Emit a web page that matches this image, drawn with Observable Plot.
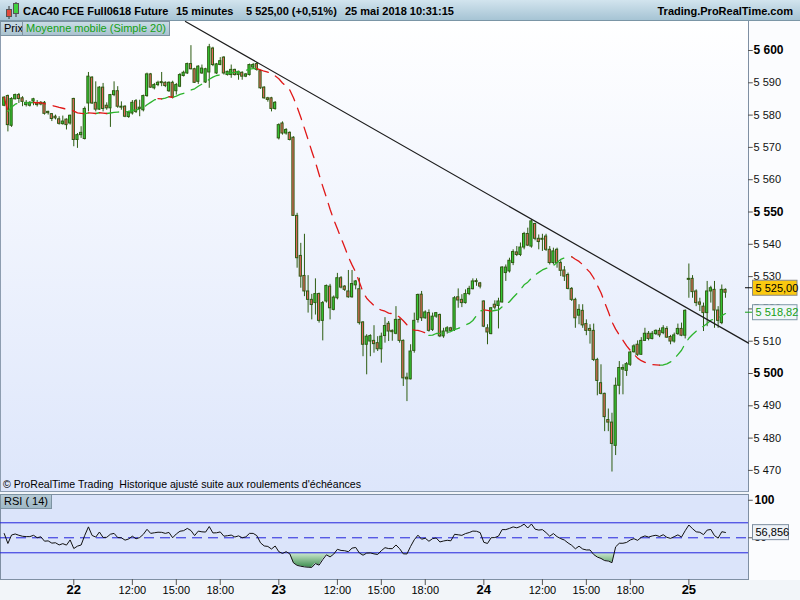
<!DOCTYPE html>
<html lang="fr">
<head>
<meta charset="utf-8">
<script src="https://cdn.jsdelivr.net/npm/d3@7"></script>
<script src="https://cdn.jsdelivr.net/npm/@observablehq/plot@0.6"></script>
<style>
html,body{margin:0;padding:0;}
body{width:800px;height:600px;overflow:hidden;background:#f2f5f9;font-family:"Liberation Sans",Arial,sans-serif;}
#wrap{position:relative;width:800px;height:600px;}
.abs{position:absolute;}
#header{left:0;top:0;width:800px;height:21px;background:linear-gradient(#d2e4ee,#a6c4d4);border-bottom:1px solid #7b96a6;box-sizing:border-box;}
.ht{position:absolute;top:5px;font-size:11px;font-weight:bold;color:#000;line-height:12px;white-space:nowrap;}
#mainbg{left:0;top:21px;width:749px;height:471px;background:linear-gradient(#ffffff,#dde6fb);border-left:1px solid #8d9db0;border-right:1px solid #7f8fa3;border-bottom:1px solid #8d9db0;box-sizing:border-box;}
#axisbg{left:749px;top:21px;width:51px;height:559px;background:#fbfcfe;}
#rsibg{left:0;top:494px;width:749px;height:86px;background:#dbe4fa;border:1px solid #7f8fa3;box-sizing:border-box;}
.box{position:absolute;font-size:11px;line-height:13px;height:15px;box-sizing:border-box;border:1px solid #7d93a2;background:linear-gradient(#cadce6,#a9c2cf);padding:0 3px;white-space:nowrap;}
#copy{left:3px;top:478px;font-size:10.6px;line-height:13px;color:#000;white-space:nowrap;}
svg{position:absolute;left:0;}
</style>
</head>
<body>
<div id="wrap">
  <div id="header" class="abs">
    <svg width="18" height="20" style="left:2px;top:0">
      <line x1="7" y1="6" x2="7" y2="19" stroke="#333"/><rect x="4.5" y="9.5" width="5" height="7" fill="#e04a3c" stroke="#555"/>
      <line x1="14" y1="2" x2="14" y2="17" stroke="#333"/><rect x="11.5" y="3.5" width="5" height="10" fill="#3fd23f" stroke="#555"/>
    </svg>
    <span class="ht" style="left:23px">CAC40 FCE Full0618 Future</span>
    <span class="ht" style="left:176px">15 minutes</span>
    <span class="ht" style="left:246px">5 525,00 (+0,51%)</span>
    <span class="ht" style="left:345px">25 mai 2018 10:31:15</span>
    <span class="ht" style="right:7px">Trading.ProRealTime.com</span>
  </div>
  <div id="mainbg" class="abs"></div>
  <div id="axisbg" class="abs"></div>
  <div id="rsibg" class="abs"></div>
  <div id="charts"></div>
  <div class="box" style="left:0;top:21px;">Prix</div>
  <div class="box" style="left:22px;top:21px;color:#13a013;">Moyenne mobile (Simple 20)</div>
  <div id="copy" class="abs">© ProRealTime Trading&nbsp; Historique ajusté suite aux roulements d'échéances</div>
  <div class="box" style="left:0;top:494px;background:linear-gradient(#b6cad5,#9fb8c6);">RSI ( 14)</div>
</div>
<script>
// ---- Data: 15-minute candles, index k (0 = 22 mai 08:00), from 21 mai 17:15 to 25 mai 10:30
const kStart = -19;
const opens = [
 5582.9,5585.9,5576.7,5584.9,5586.2,5585.2,5583.1,5582.9,5584.2,5583.6,5583.3,5583.8,5581.0,5580.3,5579.5,5578.7,5577.2,5578.6,5577.4,
 5585.0,5572.3,5573.8,5572.6,5583.6,5591.6,5583.8,5581.7,5588.5,5582.9,
 5582.1,5586.2,5587.4,5582.6,5582.6,5579.4,5580.5,5584.3,5581.9,5581.5,
 5585.9,5592.6,5588.3,5589.3,5590.1,5590.0,5587.4,5590.0,5587.4,5588.8,
 5592.1,5592.9,5595.8,5594.2,5590.3,5592.9,5590.1,5593.2,5600.6,5592.9,
 5595.5,5597.8,5592.4,5592.4,5594.0,5592.4,5593.1,5591.9,5592.4,5594.7,
 5595.8,5593.6,5588.5,5585.2,5585.2,5581.9,
 5572.8,5577.4,5574.3,5574.5,5573.0,5548.8,5536.4,5530.2,5525.4,5522.8,
 5521.8,5524.6,5516.3,5522.3,5526.9,5519.7,5523.3,5529.5,5526.9,5525.4,
 5523.6,5527.3,5526.1,5515.8,5508.9,5509.9,5510.1,5509.4,5507.5,5511.6,
 5515.4,5513.2,5512.3,5516.6,5510.1,5498.7,5498.2,5507.0,5516.6,5524.4,
 5517.1,5518.7,5513.5,5517.6,5518.1,5511.5,5513.0,5514.0,5513.5,5523.6,
 5522.8,5521.8,5524.6,5526.1,5528.5,5527.9,
 5522.3,5514.0,5512.2,5521.3,5520.9,5522.0,5531.1,5531.6,5534.2,5537.5,
 5536.7,5539.0,5543.2,5539.3,5546.3,5541.7,5541.7,5542.4,5538.3,5534.2,
 5538.3,5534.2,5531.9,5530.5,5526.2,5522.8,5517.9,5519.4,5515.3,5513.8,
 5513.2,5504.2,5497.0,5493.7,5485.6,5484.8,5477.6,5496.2,5501.2,5500.8,
 5502.7,5506.6,5508.9,5505.8,5510.1,5512.3,5510.7,5512.2,5513.2,5512.5,
 5513.8,5511.3,5509.9,5512.2,5513.8,5511.7,
 5529.3,5529.3,5525.4,5522.0,5520.7,5518.7,5525.4,5525.9,5519.5,5515.6,5525.9
];
const highs = [
 5585.7,5586.2,5585.4,5586.5,5586.7,5585.7,5584.5,5584.2,5585.2,5584.5,5584.2,5584.2,5581.2,5580.5,5580.0,5579.5,5579.7,5578.8,5580.0,
 5585.2,5574.3,5576.4,5582.5,5593.2,5591.9,5590.3,5588.8,5589.8,5583.8,
 5586.4,5590.3,5588.8,5584.1,5582.9,5581.2,5584.5,5584.8,5584.6,5586.2,
 5593.0,5592.9,5589.8,5590.5,5593.2,5590.3,5590.3,5590.5,5589.8,5592.9,
 5593.6,5596.1,5601.5,5594.5,5595.3,5595.5,5594.5,5601.9,5601.0,5596.0,
 5597.8,5598.1,5593.6,5595.5,5594.2,5593.6,5593.4,5592.9,5595.8,5596.0,
 5596.3,5593.9,5588.8,5585.5,5585.5,5584.2,
 5577.3,5577.9,5575.8,5574.8,5573.3,5549.6,5540.3,5543.1,5530.3,5524.5,
 5529.3,5524.9,5522.3,5527.4,5527.6,5524.0,5531.0,5530.0,5527.2,5531.9,
 5531.9,5528.8,5529.5,5516.1,5512.0,5512.0,5514.8,5511.4,5512.5,5517.3,
 5516.1,5513.5,5520.7,5516.9,5510.4,5500.1,5508.9,5518.7,5524.6,5525.4,
 5519.4,5519.7,5518.7,5518.9,5518.4,5514.0,5514.5,5514.3,5523.8,5526.2,
 5524.4,5525.9,5527.0,5529.3,5529.3,5528.2,
 5522.5,5515.1,5520.4,5522.5,5523.3,5533.1,5533.6,5535.7,5538.3,5539.3,
 5540.4,5543.7,5545.0,5547.6,5546.5,5542.9,5543.1,5543.1,5539.3,5538.8,
 5538.8,5534.9,5533.1,5531.1,5526.6,5523.3,5521.3,5521.3,5516.6,5515.1,
 5515.3,5504.7,5502.7,5493.9,5489.0,5487.7,5498.6,5503.7,5502.7,5503.4,
 5506.8,5508.9,5510.1,5511.1,5514.0,5513.0,5513.0,5513.5,5514.0,5514.8,
 5514.5,5511.8,5512.5,5515.3,5515.6,5519.7,
 5533.9,5530.3,5525.9,5523.3,5521.8,5528.5,5527.0,5528.5,5520.7,5527.4,5526.2
];
const lows = [
 5582.6,5574.8,5576.2,5584.7,5583.6,5582.6,5582.5,5582.5,5582.9,5582.5,5582.9,5580.0,5580.0,5578.0,5578.5,5576.9,5576.9,5575.4,5576.9,
 5570.2,5569.7,5572.8,5572.3,5581.0,5583.3,5581.0,5581.5,5581.0,5581.5,
 5576.2,5585.7,5582.1,5581.5,5579.2,5579.0,5580.0,5580.5,5579.5,5581.0,
 5585.5,5588.3,5587.8,5588.8,5588.8,5588.5,5587.0,5585.0,5586.2,5588.5,
 5591.8,5592.6,5594.0,5589.8,5589.5,5592.6,5589.8,5588.3,5595.0,5592.6,
 5595.3,5592.4,5592.1,5591.4,5592.1,5590.8,5590.8,5591.6,5592.1,5594.4,
 5593.6,5588.0,5584.9,5584.0,5581.0,5581.5,
 5572.3,5573.8,5573.8,5572.0,5548.6,5532.6,5526.4,5523.8,5518.7,5516.6,
 5518.1,5515.6,5510.1,5521.8,5516.6,5519.4,5522.8,5526.2,5525.4,5523.3,
 5523.3,5525.9,5515.0,5505.2,5499.6,5505.2,5506.3,5506.8,5503.2,5509.4,
 5509.9,5510.0,5512.0,5509.4,5496.0,5491.3,5498.0,5506.3,5515.6,5516.1,
 5516.8,5512.8,5513.0,5517.1,5511.1,5510.9,5512.2,5512.9,5513.0,5520.2,
 5520.4,5521.5,5524.1,5525.9,5527.0,5526.2,
 5514.2,5508.9,5512.0,5519.7,5513.8,5521.8,5528.5,5531.1,5533.4,5536.2,
 5536.2,5538.3,5539.3,5538.8,5541.1,5538.3,5537.8,5537.8,5533.6,5533.6,
 5532.6,5530.0,5528.5,5525.9,5522.3,5514.0,5515.1,5514.0,5511.7,5509.1,
 5503.7,5493.1,5493.4,5482.0,5482.0,5469.5,5474.6,5493.4,5493.4,5499.1,
 5502.2,5506.3,5505.3,5505.6,5509.9,5510.1,5510.4,5511.8,5511.1,5512.0,
 5510.9,5508.9,5509.4,5511.8,5511.4,5510.7,
 5523.3,5523.3,5520.7,5519.2,5513.0,5514.5,5521.8,5514.0,5514.0,5515.1,5523.3
];
const closes = [
 5585.4,5576.9,5585.0,5586.2,5585.0,5584.1,5583.8,5583.8,5584.9,5583.1,5583.8,5580.4,5580.6,5578.8,5579.0,5577.3,5578.0,5576.9,5579.8,
 5572.3,5573.8,5574.5,5581.9,5591.9,5583.6,5581.7,5588.5,5581.9,5582.1,
 5586.2,5587.4,5582.6,5582.3,5579.5,5580.8,5583.8,5581.0,5582.3,5585.9,
 5592.6,5588.5,5589.3,5590.0,5589.9,5589.0,5590.0,5585.4,5589.3,5592.4,
 5593.1,5595.8,5594.2,5590.0,5595.0,5594.4,5594.2,5601.0,5595.5,5595.7,
 5596.7,5592.9,5593.4,5594.0,5592.4,5593.4,5591.9,5592.6,5595.5,5595.5,
 5594.0,5588.3,5585.2,5584.7,5581.9,5583.8,
 5576.9,5574.3,5575.4,5572.3,5548.8,5535.7,5530.0,5525.4,5522.8,5521.2,
 5524.6,5516.3,5521.8,5527.1,5520.2,5523.5,5529.5,5526.6,5525.9,5523.6,
 5527.7,5528.5,5515.6,5508.9,5511.4,5511.6,5509.1,5507.5,5511.4,5514.7,
 5513.0,5512.8,5516.6,5510.1,5498.5,5498.2,5506.8,5516.3,5524.3,5517.1,
 5518.9,5513.2,5517.6,5518.7,5511.5,5513.0,5514.0,5513.2,5523.3,5522.6,
 5521.8,5524.6,5526.2,5528.5,5528.3,5526.9,
 5514.5,5512.7,5520.2,5520.4,5522.3,5532.8,5532.8,5534.9,5537.6,5536.7,
 5539.0,5543.2,5539.6,5547.1,5541.7,5540.7,5541.4,5538.3,5534.2,5537.8,
 5534.2,5531.8,5530.0,5526.2,5522.8,5517.1,5519.7,5514.9,5513.2,5513.2,
 5504.2,5497.7,5493.7,5486.5,5484.8,5478.2,5496.2,5501.7,5501.7,5502.9,
 5506.5,5508.4,5505.8,5510.1,5512.3,5510.7,5512.3,5513.2,5511.8,5514.0,
 5511.1,5509.9,5511.8,5513.8,5511.7,5519.4,
 5529.0,5525.2,5521.8,5521.3,5518.7,5525.4,5526.4,5519.5,5516.3,5525.9,5525.0
];
// trend line drawn on the chart (candle index, price)
const trendK = [30.5, 184.3];
const trendP = [5609.0, 5509.4];
// axis ticks
const priceTicks = d3.range(5470, 5601, 10);
const priceBold = [5500, 5550, 5600];
const dayTicks = [0, 56, 112, 168];
const dayLabels = ["22", "23", "24", "25"];
const timeTicks = [16, 28, 40, 72, 84, 96, 128, 140, 152];
const timeLabels = ["12:00","15:00","18:00","12:00","15:00","18:00","12:00","15:00","18:00"];
const rsiTicks = [100, 50];
const rsiLevels = [70, 30];
const rsiMid = [50];
// values shown in the axis labels
const lastPrice = 5525.00;
const maLast = 5518.82;
const rsiLast = 56.856;
const rsiStart = 55.6; // RSI level read at the left edge

// ---- Derived
const n = closes.length;
const ks = d3.range(n).map(i => kStart + i);
const candles = ks.map((k, i) => ({k, o: opens[i], h: highs[i], l: lows[i], c: closes[i]}));
const ma = closes.map((_, i) => d3.mean(closes.slice(Math.max(0, i - 19), i + 1)));
const maUp = [], maDown = [];
{
  let run = 0, prev = null;
  for (let i = 1; i < n; i++) {
    const up = ma[i] >= ma[i - 1];
    if (up !== prev) { run++; (up ? maUp : maDown).push({k: ks[i-1], v: ma[i-1], run}); prev = up; }
    (up ? maUp : maDown).push({k: ks[i], v: ma[i], run});
  }
}
const ch = d3.range(1, n).map(i => closes[i] - closes[i - 1]);
const m0 = d3.mean(ch.slice(0, 14), Math.abs);
let ag = m0 * rsiStart / 100, al = m0 * (1 - rsiStart / 100);
const rsi = [rsiStart];
for (let i = 1; i < n; i++) {
  const d = ch[i - 1];
  ag = (ag * 13 + Math.max(d, 0)) / 14;
  al = (al * 13 + Math.max(-d, 0)) / 14;
  rsi.push(100 - 100 / (1 + ag / al));
}
const rsiData = ks.map((k, i) => ({k, r: rsi[i]}));

const fr = d3.formatLocale({decimal: ",", thousands: " ", grouping: [3], currency: ["", ""]});
const fmtInt = fr.format(",d"), fmt2 = fr.format(",.2f"), fmt3 = fr.format(".3f");

const xDomain = [-20.02, 184.29];
const kR = xDomain[1];
const font = "Liberation Sans, Arial, sans-serif";
const wick = "#2d5c12";
const up = candles.filter(d => d.c >= d.o), dn = candles.filter(d => d.c < d.o);
const bodyOpts = {
  x1: d => d.k - 0.3, x2: d => d.k + 0.3,
  y1: d => Math.min(d.o, d.c), y2: d => Math.max(Math.max(d.o, d.c), Math.min(d.o, d.c) + 0.3),
  stroke: wick, strokeWidth: 1
};

const main = Plot.plot({
  width: 800, height: 471, marginLeft: 0, marginRight: 52, marginTop: 0, marginBottom: 0,
  x: {domain: xDomain, axis: null},
  y: {domain: [5463.16, 5608.98], axis: null},
  style: {background: "transparent", fontFamily: font, fontSize: "11px", overflow: "visible"},
  marks: [
    Plot.ruleX(candles, {x: "k", y1: "l", y2: "h", stroke: wick, strokeWidth: 1}),
    Plot.rect(up, {...bodyOpts, fill: "#36cc36"}),
    Plot.rect(dn, {...bodyOpts, fill: "#e2675c"}),
    Plot.line(maUp, {x: "k", y: "v", z: "run", stroke: "#2cb42c", strokeWidth: 1.3, strokeDasharray: "12,8"}),
    Plot.line(maDown, {x: "k", y: "v", z: "run", stroke: "#e01818", strokeWidth: 1.3, strokeDasharray: "12,8"}),
    Plot.line(trendK.map((k, i) => ({k, p: trendP[i]})), {x: "k", y: "p", stroke: "#1c1c1c", strokeWidth: 1.2}),
    Plot.ruleY(priceTicks, {y: d => d, x1: kR, x2: kR + 1.3, stroke: "#555"}),
    Plot.text(priceTicks.filter(d => !priceBold.includes(d)), {y: d => d, text: fmtInt, frameAnchor: "right", dx: 5, textAnchor: "start", fill: "#111", fontSize: 11}),
    Plot.text(priceBold, {y: d => d, text: fmtInt, frameAnchor: "right", dx: 5, textAnchor: "start", fill: "#000", fontSize: 12, fontWeight: "bold"})
  ]
});
main.style.top = "21px";

const rsiPlot = Plot.plot({
  width: 800, height: 106, marginLeft: 0, marginRight: 52, marginTop: 0, marginBottom: 21,
  x: {domain: xDomain, axis: null},
  y: {domain: [-5.6, 107.7], axis: null},
  style: {background: "transparent", fontFamily: font, fontSize: "11px", overflow: "visible"},
  marks: [
    Plot.areaY(rsiData, {x: "k", y1: 30, y2: d => Math.min(d.r, 30), fill: "url(#rsiGreen)"}),
    Plot.ruleY(rsiLevels, {stroke: "#2323dc", strokeWidth: 1}),
    Plot.ruleY(rsiMid, {stroke: "#2323dc", strokeWidth: 1, strokeDasharray: "10,6"}),
    Plot.line(rsiData, {x: "k", y: "r", stroke: "#111", strokeWidth: 1}),
    Plot.ruleY(rsiTicks, {y: d => d, x1: kR, x2: kR + 1.3, stroke: "#555"}),
    Plot.text([100], {y: d => d, text: d => String(d), frameAnchor: "right", dx: 6, textAnchor: "start", fontSize: 12, fontWeight: "bold", fill: "#000"}),
    Plot.text(rsiMid, {y: d => d, text: d => String(d), frameAnchor: "right", dx: 6, textAnchor: "start", fontSize: 11, fill: "#000"}),
    Plot.ruleX(dayTicks.concat(timeTicks), {x: d => d, y1: -5.6, y2: -13.6, stroke: "#555"}),
    Plot.text(dayTicks, {x: d => d, text: (d, i) => dayLabels[i], frameAnchor: "bottom", dy: 14.5, fontSize: 13, fontWeight: "bold", fill: "#000"}),
    Plot.text(timeTicks, {x: d => d, text: (d, i) => timeLabels[i], frameAnchor: "bottom", dy: 14.5, fontSize: 11, fill: "#000"})
  ]
});
rsiPlot.style.top = "494px";

const charts = document.getElementById("charts");
charts.appendChild(main);
charts.appendChild(rsiPlot);

// gradient for RSI oversold fill
const defs = d3.select(rsiPlot).insert("defs", ":first-child");
const g = defs.append("linearGradient").attr("id", "rsiGreen").attr("x1", 0).attr("y1", 0).attr("x2", 0).attr("y2", 1);
g.append("stop").attr("offset", "0%").attr("stop-color", "#d3ecd3");
g.append("stop").attr("offset", "100%").attr("stop-color", "#3f8f52");

// value boxes on the right axes, positioned with the plots' y scales
function valueBox(svg, yPix, label, fill, stroke, color, w, markColor) {
  const s = d3.select(svg).append("g").attr("text-anchor", "start");
  if (markColor) s.append("line").attr("x1", 745).attr("x2", 752).attr("y1", yPix).attr("y2", yPix).attr("stroke", markColor);
  s.append("rect").attr("x", 752.5).attr("y", yPix - 7.5).attr("width", w).attr("height", 15)
    .attr("fill", fill).attr("stroke", stroke);
  s.append("text").attr("x", 755.5).attr("y", yPix).attr("dy", "0.36em").attr("font-size", 11)
    .attr("text-anchor", "start").attr("font-family", font).attr("fill", color).text(label);
}
const ym = main.scale("y");
valueBox(main, ym.apply(maLast), fmt2(maLast), "#f1f6fa", "#7f9aa8", "#16a016", 44.5, "#16a016");
valueBox(main, ym.apply(lastPrice) - 4.5, fmt2(lastPrice), "#fbc910", "#8a8a8a", "#000", 44.5, "#000");
const yr = rsiPlot.scale("y");
valueBox(rsiPlot, yr.apply(rsiLast), fmt3(rsiLast), "#eef3f8", "#7f8fa0", "#000", 36, null);
</script>
</body>
</html>
